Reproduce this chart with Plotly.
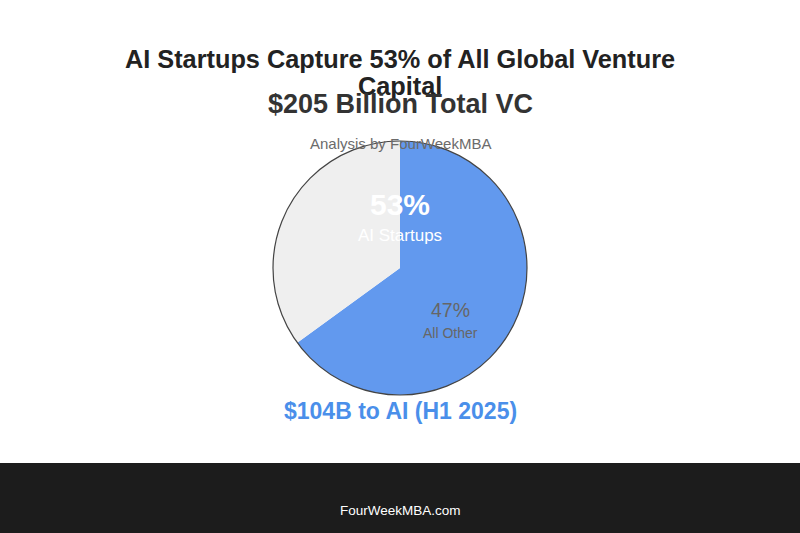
import plotly.graph_objects as go

# Slice data (sizes as drawn in the picture) and label texts
slice_names = ["AI Startups", "All Other"]
slice_sizes = [65, 35]
slice_colors = ["#6299ee", "#efefef"]
pct_labels = ["53%", "47%"]

W, H = 800, 533

def px(x):
    return x / W

def py(y):
    return 1 - y / H

fig = go.Figure()
fig.add_trace(go.Pie(
    labels=slice_names,
    values=slice_sizes,
    marker=dict(colors=slice_colors, line=dict(width=0)),
    sort=False,
    direction="clockwise",
    rotation=0,
    textinfo="none",
    hoverinfo="label+value",
    showlegend=False,
    domain=dict(x=[px(273), px(527)], y=[py(395), py(141)]),
))

shapes = [
    # pie outline
    dict(type="circle", xref="paper", yref="paper",
         x0=px(273), x1=px(527), y0=py(395), y1=py(141),
         line=dict(color="#444444", width=1.2), fillcolor="rgba(0,0,0,0)"),
    # footer bar
    dict(type="rect", xref="paper", yref="paper",
         x0=0, x1=1, y0=0, y1=py(463),
         line=dict(width=0), fillcolor="#1c1c1c", layer="below"),
]

FONT = "Liberation Sans, Arial, sans-serif"

def ann(text, x, y, size, color, bold=False):
    t = f"<b>{text}</b>" if bold else text
    return dict(text=t, x=px(x), y=py(y), xref="paper", yref="paper",
                showarrow=False, xanchor="center", yanchor="middle",
                font=dict(family=FONT, size=size, color=color))

annotations = [
    ann("AI Startups Capture 53% of All Global Venture", 400, 59, 25.3, "#222222", True),
    ann("Capital", 400, 86, 25.3, "#222222", True),
    ann("$205 Billion Total VC", 400, 104, 27, "#333333", True),
    ann("Analysis by FourWeekMBA", 400, 143, 15, "#6b6b6b"),
    ann(pct_labels[0], 400, 205, 30, "#ffffff", True),
    ann(slice_names[0], 400, 235, 17, "#ffffff"),
    ann(pct_labels[1], 450, 310, 19.5, "#666666"),
    ann(slice_names[1], 450, 333, 14, "#666666"),
    ann("$104B to AI (H1 2025)", 400, 411, 23, "#4a8fea", True),
    ann("FourWeekMBA.com", 400, 511, 13.5, "#ffffff"),
]

fig.update_layout(
    width=W, height=H,
    margin=dict(l=0, r=0, t=0, b=0),
    paper_bgcolor="#ffffff",
    plot_bgcolor="#ffffff",
    shapes=shapes,
    annotations=annotations,
)

fig.write_html("out.html",
               config={"displayModeBar": False},
               post_script="document.body.style.margin='0';document.body.style.overflow='hidden';")
